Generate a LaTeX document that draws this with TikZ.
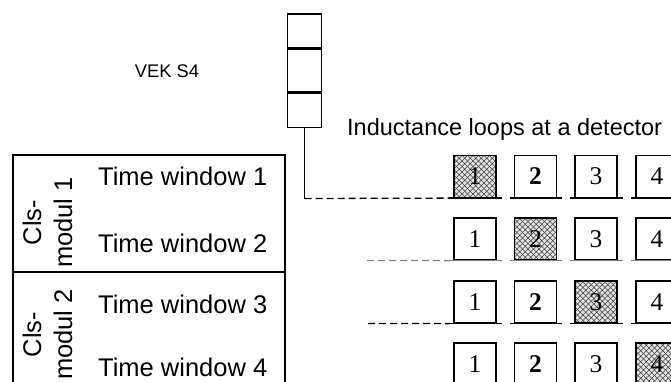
\documentclass[tikz,border=0pt]{standalone}
\usepackage{fontspec}
\setmainfont{Liberation Serif}
\newfontfamily\arialfont{Liberation Sans}
\usetikzlibrary{patterns}

\pgfdeclarepatternformonly{xhatch}{\pgfqpoint{-1pt}{-1pt}}{\pgfqpoint{7pt}{7pt}}{\pgfqpoint{5.5pt}{5.5pt}}{
  \pgfsetlinewidth{0.45pt}
  \pgfpathmoveto{\pgfqpoint{0pt}{0pt}}\pgfpathlineto{\pgfqpoint{5.6pt}{5.6pt}}
  \pgfpathmoveto{\pgfqpoint{0pt}{5.5pt}}\pgfpathlineto{\pgfqpoint{5.6pt}{-0.1pt}}
  \pgfusepath{stroke}}

\tikzset{
  loopbox/.style={draw, line width=1.2pt, minimum width=42pt, minimum height=42pt,
    inner sep=0pt, font=\fontsize{25.5}{30}\selectfont},
  hatched/.style={loopbox, preaction={fill=gray!22}, pattern=xhatch, pattern color=black!75},
  stackbox/.style={draw, line width=1.4pt, minimum width=34pt, inner sep=0pt},
  ground/.style={line width=1.4pt},
  dashline/.style={line width=1.3pt, dash pattern=on 7pt off 4pt},
  lbl/.style={font=\arialfont\fontsize{25.5}{31}\selectfont, inner sep=0pt}
}

\begin{document}
\begin{tikzpicture}[x=1pt, y=-1pt]
  \useasboundingbox (0,0) rectangle (671,381);
  \clip (0,0) rectangle (671,381);

  % VEK S4
  \node[font=\arialfont\fontsize{18.3}{22}\selectfont, anchor=base, inner sep=0pt] (vek) at (167,77) {VEK S4};
  \node[stackbox, minimum height=33.6pt] (vek1) at (304.5,30.7) {};
  \node[stackbox, minimum height=43pt] (vek2) at (304.5,70.5) {};
  \node[stackbox, minimum height=34.2pt] (vek3) at (304.5,110.5) {};

  \node[font=\arialfont\fontsize{23.5}{28}\selectfont, anchor=base west, inner sep=0pt] (title) at (347,135) {Inductance loops at a detector};

  % left table
  \draw[line width=1.3pt] (13,155) rectangle (285,400);
  \draw[line width=1.3pt] (13,272) -- (285,272);
  \node[lbl, rotate=90, align=center] (cls1) at (47.5,222.5) {Cls-\\modul 1};
  \node[lbl, rotate=90, align=center] (cls2) at (47.5,334.5) {Cls-\\modul 2};
  \node[lbl, anchor=base west] (tw1) at (98,185) {Time window 1};
  \node[lbl, anchor=base west] (tw2) at (98,252) {Time window 2};
  \node[lbl, anchor=base west] (tw3) at (98,313) {Time window 3};
  \node[lbl, anchor=base west] (tw4) at (98,376) {Time window 4};

  % loops
  \node[hatched] (l11) at (475,176.5) {1};
  \node[loopbox] (l12) at (535.5,176.5) {\textbf{2}};
  \node[loopbox] (l13) at (596,176.5) {3};
  \node[loopbox] (l14) at (657,176.5) {4};

  \node[loopbox] (l21) at (475,239) {1};
  \node[hatched] (l22) at (535.5,239) {2};
  \node[loopbox] (l23) at (596,239) {3};
  \node[loopbox] (l24) at (657,239) {4};

  \node[loopbox] (l31) at (475,302) {1};
  \node[loopbox] (l32) at (535.5,302) {\textbf{2}};
  \node[hatched] (l33) at (596,302) {3};
  \node[loopbox] (l34) at (657,302) {4};

  \node[loopbox] (l41) at (475,364) {1};
  \node[loopbox] (l42) at (535.5,364) {\textbf{2}};
  \node[loopbox] (l43) at (596,364) {3};
  \node[hatched] (l44) at (657,364) {4};

  % ground under the loops
  \draw[ground] ([xshift=-4pt]l11.south west) -- ([xshift=5pt]l11.south east);
  \draw[ground] ([xshift=-4pt]l12.south west) -- ([xshift=5pt]l12.south east);
  \draw[ground] ([xshift=-4pt]l13.south west) -- ([xshift=5pt]l13.south east);
  \draw[ground] ([xshift=-4pt]l14.south west) -- ([xshift=5pt]l14.south east);
  \draw[ground, gray] ([xshift=-4pt]l21.south west) -- ([xshift=5pt]l21.south east);
  \draw[ground, gray] ([xshift=-4pt]l22.south west) -- ([xshift=5pt]l22.south east);
  \draw[ground, gray] ([xshift=-4pt]l23.south west) -- ([xshift=5pt]l23.south east);
  \draw[ground, gray] ([xshift=-4pt]l24.south west) -- ([xshift=5pt]l24.south east);
  \draw[ground] ([xshift=-4pt]l31.south west) -- ([xshift=5pt]l31.south east);
  \draw[ground] ([xshift=-4pt]l32.south west) -- ([xshift=5pt]l32.south east);
  \draw[ground] ([xshift=-4pt]l33.south west) -- ([xshift=5pt]l33.south east);
  \draw[ground] ([xshift=-4pt]l34.south west) -- ([xshift=5pt]l34.south east);

  % connections
  \coordinate (c1) at (304.5,198.5);
  \coordinate (c2) at (367,260.5);
  \coordinate (c3) at (368,323.5);
  \draw[line width=1.3pt] (vek3.south) -- (c1);
  \draw[dashline] (c1) -- ([xshift=-4pt]l11.south west);
  \draw[dashline, gray] (c2) -- ([xshift=-4pt]l21.south west);
  \draw[dashline] (c3) -- ([xshift=-4pt]l31.south west);
\end{tikzpicture}
\end{document}
